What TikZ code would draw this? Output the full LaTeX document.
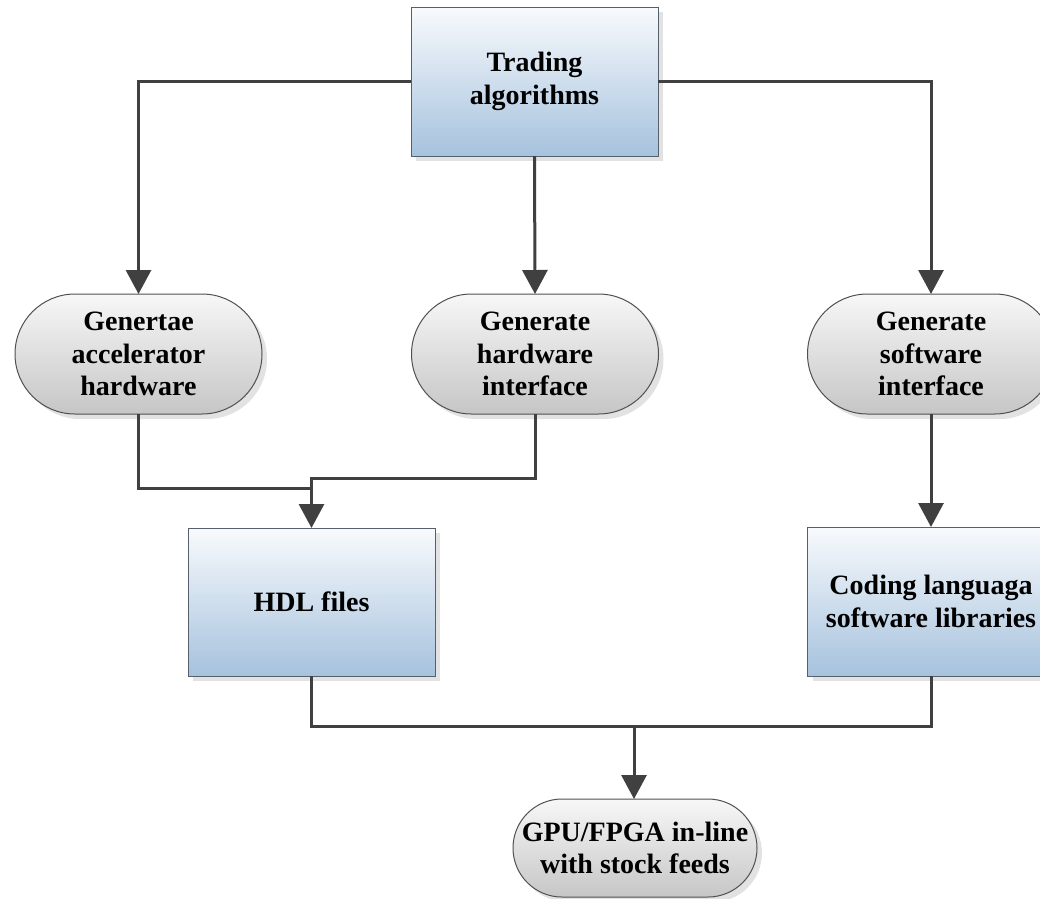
\documentclass[tikz,border=0pt]{standalone}
\usepackage{fontspec}
\setmainfont{Liberation Serif}
\usetikzlibrary{shapes.misc,shadows,arrows.meta}

\definecolor{boxtop}{HTML}{F8FAFD}
\definecolor{boxbottom}{HTML}{A6C2DD}
\definecolor{boxedge}{HTML}{56606A}
\definecolor{pilltop}{HTML}{F7F7F7}
\definecolor{pillbottom}{HTML}{C6C6C6}
\definecolor{pilledge}{HTML}{505050}
\definecolor{shadowgray}{HTML}{E2E2E2}
\definecolor{wire}{HTML}{404040}

\tikzset{
  label font/.style={font=\bfseries\fontsize{28}{32.5}\selectfont, text=black},
  procbox/.style={rectangle, draw=boxedge, line width=1pt,
    top color=boxtop, bottom color=boxbottom,
    minimum width=247pt, minimum height=149pt,
    inner sep=0pt, outer sep=0pt, align=center, label font,
    drop shadow={shadow xshift=5pt, shadow yshift=-5pt, fill=shadowgray, opacity=1}},
  pill/.style={rounded rectangle, draw=pilledge, line width=1pt,
    top color=pilltop, bottom color=pillbottom,
    minimum width=247pt, minimum height=120pt,
    inner sep=0pt, outer sep=0pt, align=center, label font,
    drop shadow={shadow xshift=5pt, shadow yshift=-5pt, fill=shadowgray, opacity=1}},
  wireline/.style={draw=wire, line width=3pt},
  flow/.style={wireline, -{Triangle[length=24pt, width=25pt]}},
}

\begin{document}
\begin{tikzpicture}[x=1pt, y=-1pt]
\useasboundingbox (0,0) rectangle (1040,898);

% process boxes
\node[procbox] (algo) at (534.5,81.5) {Trading\\algorithms};
\node[procbox, minimum height=148pt] (hdl) at (311.5,602) {HDL files};
\node[procbox] (libs) at (931,601.5) {Coding languaga\\software libraries};

% generation steps
\node[pill] (acc) at (138.5,354) {Genertae\\accelerator\\hardware};
\node[pill] (hwi) at (535,354) {Generate\\hardware\\interface};
\node[pill] (swi) at (931,354) {Generate\\software\\interface};

% target platform
\node[pill, minimum width=244pt, minimum height=98pt] (gpu) at (635,848) {GPU/FPGA in-line\\with stock feeds};

% junction points
\coordinate (jacc) at (311.5,488);
\coordinate (jhwi) at (311.5,478);
\coordinate (jout) at (634,726);

% algorithms to generation steps
\draw[flow] (algo.west) -| (acc.north);
\draw[flow] (algo.south) -- (hwi.north);
\draw[flow] (algo.east) -| (swi.north);

% hardware path
\draw[wireline] (acc.south) |- (jacc);
\draw[flow] (hwi.south) |- (jhwi) -- (hdl.north);

% software path
\draw[flow] (swi.south) -- (libs.north);

% merge into the platform
\draw[wireline] (hdl.south) |- (jout);
\draw[wireline] (libs.south) |- (jout);
\draw[flow] (jout) -- (gpu.north -| jout);
\end{tikzpicture}
\end{document}
